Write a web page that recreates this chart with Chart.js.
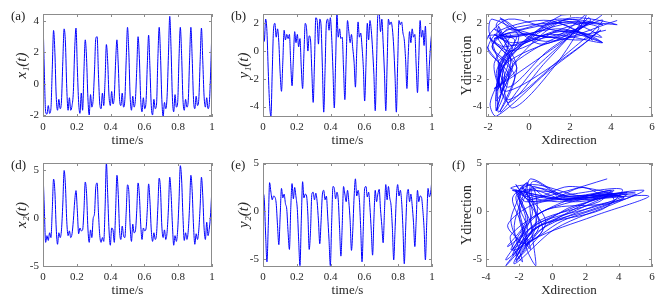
<!DOCTYPE html>
<html>
<head>
<meta charset="utf-8">
<script src="https://cdn.jsdelivr.net/npm/chart.js@4.4.1/dist/chart.umd.min.js"></script>
<style>
  body { margin: 0; background: #fff; width: 665px; height: 306px; position: relative; overflow: hidden; }
  .panel { position: absolute; }
  .tag { position: absolute; font: 13px "Liberation Serif", serif; color: #222; }
</style>
</head>
<body>
<div class="panel" style="left:0;top:0"><canvas id="pa" width="220" height="150"></canvas></div>
<div class="panel" style="left:220px;top:0"><canvas id="pb" width="220" height="150"></canvas></div>
<div class="panel" style="left:440px;top:0"><canvas id="pc" width="225" height="150"></canvas></div>
<div class="panel" style="left:0;top:150px"><canvas id="pd" width="220" height="156"></canvas></div>
<div class="panel" style="left:220px;top:150px"><canvas id="pe" width="220" height="156"></canvas></div>
<div class="panel" style="left:440px;top:150px"><canvas id="pf" width="225" height="156"></canvas></div>
<div class="tag" style="left:11px;top:8px">(a)</div>
<div class="tag" style="left:231px;top:8px">(b)</div>
<div class="tag" style="left:452px;top:8px">(c)</div>
<div class="tag" style="left:11px;top:157px">(d)</div>
<div class="tag" style="left:231px;top:157px">(e)</div>
<div class="tag" style="left:452px;top:157px">(f)</div>
<script>
// samples every 1/128 s, 8 per row
const x1 = [
  4.3, 0.8, -1.8, -1.95, -1.4, -1.9, -1.6, 0.9,
  3.4, 2.0, -0.8, -1.7, -1.0, -1.6, -1.1, 1.4,
  3.5, 2.6, -0.3, -1.7, -0.9, -1.7, -1.4, -0.5,
  2.2, 3.55, 1.0, -1.2, -1.9, -0.6, -1.7, 0.8,
  2.8, 1.6, -0.9, -2.0, -0.7, -1.5, -1.0, 0.8,
  2.9, 3.0, 0.6, -1.3, -1.6, -0.6, -1.4, 0.2,
  2.5, 1.4, -0.8, -1.4, -0.5, -1.3, -0.8, 1.4,
  2.8, 1.2, -1.0, -1.4, -0.6, -1.5, -1.0, 1.5,
  3.6, 2.0, -0.8, -1.7, -0.8, -1.5, -1.0, 0.9,
  3.0, 1.6, -1.0, -1.8, -0.9, -1.6, -1.2, 1.2,
  3.1, 1.0, -1.4, -2.0, -1.0, -1.6, -1.3, 1.6,
  3.6, 1.8, -1.0, -2.1, -1.2, -1.6, -0.8, 1.8,
  4.3, 2.2, -0.9, -1.8, -0.7, -1.5, -1.2, 1.6,
  3.6, 1.8, -1.0, -1.7, -1.0, -1.5, -1.1, 1.5,
  3.6, 1.6, -1.0, -1.6, -0.8, -1.4, -1.0, 1.4,
  3.55, 1.5, -0.8, -1.5, -0.9, -1.6, -1.2, 0.8,
  3.75
];
const y1 = [
  2.2, 0.7, 2.3, 1.4, -1.5, -3.8, -4.7, -1.5,
  1.6, 2.0, 1.0, 1.6, 0.6, -1.6, -2.9, -0.8,
  1.5, 0.8, 1.2, 0.9, 1.2, -0.9, -2.5, -0.6,
  1.4, 0.6, 1.2, 0.3, 0.9, -1.2, -2.7, -0.2,
  2.0, 1.6, 0.0, 1.1, 0.8, -1.5, -3.7, -0.8,
  2.4, 2.2, 0.5, 2.3, 1.8, -1.2, -4.4, -1.4,
  2.0, 2.3, 1.5, 2.4, 1.0, -1.4, -4.1, -0.8,
  2.7, 1.0, 1.6, 0.9, 1.0, -1.3, -3.5, -0.6,
  2.2, 1.4, 0.6, 1.2, 0.2, -0.8, -2.6, 0.0,
  2.1, 1.0, 1.3, 0.3, -1.2, -3.6, -1.0, 2.0,
  0.8, 2.2, 1.5, 0.1, -1.7, -4.3, -0.9, 2.6,
  2.7, 1.4, 2.3, 0.6, -1.6, -4.3, -1.0, 2.3,
  1.9, 2.1, 1.6, 0.3, -1.8, -4.4, -0.9, 2.2,
  1.9, 2.1, 1.3, 0.8, -0.6, -2.7, -0.3, 1.4,
  0.6, 1.6, 1.0, 1.2, -1.0, -3.0, -0.5, 2.2,
  1.0, 1.5, 0.4, 1.8, -0.8, -2.9, -1.0, 0.5,
  1.5
];
const x2 = [
  5.0, 1.0, -2.5, -1.8, -2.3, -1.5, -2.0, 0.8,
  4.1, 2.8, -1.0, -2.7, -1.5, -2.0, -1.2, 1.5,
  5.0, 3.4, -0.3, -1.8, -1.3, -2.0, -1.6, -0.2,
  1.8, 2.9, 0.8, -1.6, -1.0, -1.3, -1.2, 0.8,
  3.8, 2.6, -1.0, -2.5, -1.2, -2.0, 0.0, 0.5,
  3.3, 3.7, 0.6, -1.8, -2.5, -2.0, -2.4, 1.0,
  5.8, 2.5, -1.2, -2.8, -1.0, -1.2, -2.5, 0.8,
  4.5, 2.5, -1.3, -2.2, -0.8, -1.8, -2.0, 0.6,
  3.5, 2.8, -0.8, -2.4, -0.6, -1.5, -1.3, 0.8,
  3.7, 2.4, -0.6, -2.2, -1.0, -1.3, -1.1, 0.9,
  3.6, 1.8, -1.2, -2.4, -1.5, -2.2, -1.6, 1.2,
  4.2, 3.0, -0.8, -2.0, -1.2, -2.2, -1.4, 1.0,
  4.3, 2.6, -0.6, -2.8, -1.8, -2.4, -1.2, 1.8,
  5.5, 4.0, 0.2, -2.3, -1.5, -2.2, -1.3, 1.2,
  4.5, 2.8, -0.8, -2.7, -1.6, -2.2, -1.2, 1.2,
  4.3, 2.4, -1.0, -2.2, -0.4, -1.8, -1.0, 0.6,
  3.3
];
const y2 = [
  2.0, 1.2, -2.5, -5.3, -1.5, 3.0, 2.0, 1.2,
  1.6, 1.5, 0.8, -1.5, -3.5, -0.5, 2.4, 1.4,
  1.8, 0.8, 0.2, -2.2, -4.0, 0.2, 2.9, 1.3,
  2.5, 1.5, 0.2, -3.0, -5.7, -1.0, 3.1, 1.4,
  1.8, 1.6, -0.4, -4.0, -2.0, 1.8, 2.0, 1.2,
  1.9, 1.0, -1.0, -3.4, -1.0, 1.8, 2.2, 1.2,
  1.6, -0.5, -3.0, -5.7, -1.2, 2.6, 2.4, 1.3,
  2.0, 1.2, -1.8, -4.7, -1.5, 2.6, 1.8, 1.0,
  2.2, 1.0, -1.0, -4.1, -2.0, 1.5, 3.4, 1.6,
  2.2, 1.2, -1.8, -5.3, -1.6, 2.4, 2.6, 1.5,
  2.0, 0.4, -2.0, -4.6, -0.8, 2.2, 1.0, 1.8,
  2.3, 0.2, -1.5, -3.3, 0.0, 2.8, 1.2, 2.6,
  1.4, 0.6, -1.8, -5.1, -2.0, 1.4, 2.8, 1.6,
  2.2, 1.0, -1.8, -5.5, -2.0, 1.5, 2.3, 1.0,
  1.8, 0.6, -1.2, -3.7, -1.0, 2.2, 1.0, 1.6,
  1.5, 0.2, -1.8, -5.1, -1.2, 2.4, 1.5, 2.0,
  3.4
];

const timeTicks = [0, 0.2, 0.4, 0.6, 0.8, 1];
const x1Ticks = [-2, 0, 2, 4];
const y1Ticks = [-4, -2, 0, 2];
const x2Ticks = [-5, 0, 5];
const y2Ticks = [-5, 0, 5];
const cXTicks = [-2, 0, 2, 4, 6];
const fXTicks = [-4, -2, 0, 2, 4, 6];

const sampleTime = x1.map((_, i) => i / 128);
const blue = 'rgb(0,0,255)';
const serif = '"Liberation Serif", "DejaVu Serif", serif';

// MATLAB style box with inward ticks
const framePlugin = {
  id: 'frame',
  afterDatasetsDraw(chart) {
    const { ctx, chartArea: a, scales } = chart;
    ctx.save();
    ctx.strokeStyle = '#8c8c8c';
    ctx.lineWidth = 1;
    ctx.strokeRect(a.left + 0.5, a.top + 0.5, a.right - a.left - 1, a.bottom - a.top - 1);
    ctx.beginPath();
    scales.x.ticks.forEach(t => {
      const p = Math.round(scales.x.getPixelForValue(t.value)) + 0.5;
      ctx.moveTo(p, a.bottom); ctx.lineTo(p, a.bottom - 3);
      ctx.moveTo(p, a.top); ctx.lineTo(p, a.top + 3);
    });
    scales.y.ticks.forEach(t => {
      const p = Math.round(scales.y.getPixelForValue(t.value)) + 0.5;
      ctx.moveTo(a.left, p); ctx.lineTo(a.left + 3, p);
      ctx.moveTo(a.right, p); ctx.lineTo(a.right - 3, p);
    });
    ctx.stroke();
    ctx.restore();
  }
};
Chart.register(framePlugin);

function makePanel(id, o) {
  const yLh = o.yTitleSize * 1.2;
  const xLh = 13 * 1.2;
  new Chart(document.getElementById(id), {
    type: o.type,
    data: { datasets: [o.dataset] },
    options: {
      responsive: false,
      animation: false,
      devicePixelRatio: 1,
      layout: { padding: { top: o.padTop, right: o.padRight, left: 0, bottom: 0 } },
      plugins: { legend: { display: false }, tooltip: { enabled: false } },
      scales: {
        x: {
          type: 'linear', min: o.xMin, max: o.xMax,
          grid: { display: false, drawTicks: false }, border: { display: false },
          afterBuildTicks: s => { s.ticks = o.xTicks.map(v => ({ value: v })); },
          afterFit: s => { s.height = o.xH; },
          ticks: {
            padding: 4, color: '#262626', font: { family: serif, size: 11 }, maxRotation: 0,
            callback: v => String(v)
          },
          title: {
            display: true, text: o.xTitle, color: '#262626',
            font: { family: serif, size: 13 },
            padding: { top: 0, bottom: o.xH - 23.5 - xLh / 2 }
          }
        },
        y: {
          type: 'linear', min: o.yMin, max: o.yMax,
          grid: { display: false, drawTicks: false }, border: { display: false },
          afterBuildTicks: s => { s.ticks = o.yTicks.map(v => ({ value: v })); },
          afterFit: s => { s.width = o.yW; },
          ticks: { padding: 4, color: '#262626', font: { family: serif, size: 11 }, callback: v => String(v) },
          title: {
            display: true, text: o.yTitle, color: '#262626',
            font: { family: serif, size: o.yTitleSize, style: o.yItalic ? 'italic' : 'normal' },
            padding: { top: o.yTitleX - yLh / 2, bottom: 0 }
          }
        }
      }
    }
  });
}

function seriesSet(values) {
  return {
    data: values.map((v, i) => ({ x: sampleTime[i], y: v })),
    borderColor: blue, borderWidth: 1.0, pointRadius: 0,
    cubicInterpolationMode: 'monotone', fill: false
  };
}
function phaseSet(xs, ys) {
  return {
    data: xs.map((v, i) => ({ x: v, y: ys[i] })),
    showLine: true, borderColor: blue, borderWidth: 0.8, pointRadius: 0,
    tension: 0.3, fill: false
  };
}

const top1 = { padTop: 14, xH: 33 };
const top2 = { padTop: 13, xH: 39 };

makePanel('pa', Object.assign({}, top1, {
  type: 'line', dataset: seriesSet(x1), xMin: 0, xMax: 1, yMin: -2.13, yMax: 4.45,
  xTicks: timeTicks, yTicks: x1Ticks, xTitle: 'time/s', yTitle: 'x₁(t)', yItalic: true,
  yTitleSize: 15, yTitleX: 22, yW: 43, padRight: 8
}));
makePanel('pb', Object.assign({}, top1, {
  type: 'line', dataset: seriesSet(y1), xMin: 0, xMax: 1, yMin: -4.75, yMax: 2.67,
  xTicks: timeTicks, yTicks: y1Ticks, xTitle: 'time/s', yTitle: 'y₁(t)', yItalic: true,
  yTitleSize: 15, yTitleX: 24, yW: 43, padRight: 8
}));
makePanel('pc', Object.assign({}, top1, {
  type: 'scatter', dataset: phaseSet(x1, y1), xMin: -2.1, xMax: 6, yMin: -4.75, yMax: 2.67,
  xTicks: cXTicks, yTicks: y1Ticks, xTitle: 'Xdirection', yTitle: 'Ydirection', yItalic: false,
  yTitleSize: 14, yTitleX: 27, yW: 46, padRight: 13
}));
makePanel('pd', Object.assign({}, top2, {
  type: 'line', dataset: seriesSet(x2), xMin: 0, xMax: 1, yMin: -5.07, yMax: 5.78,
  xTicks: timeTicks, yTicks: x2Ticks, xTitle: 'time/s', yTitle: 'x₂(t)', yItalic: true,
  yTitleSize: 15, yTitleX: 22, yW: 43, padRight: 8
}));
makePanel('pe', Object.assign({}, top2, {
  type: 'line', dataset: seriesSet(y2), xMin: 0, xMax: 1, yMin: -5.84, yMax: 5.06,
  xTicks: timeTicks, yTicks: y2Ticks, xTitle: 'time/s', yTitle: 'y₂(t)', yItalic: true,
  yTitleSize: 15, yTitleX: 24, yW: 43, padRight: 8
}));
makePanel('pf', Object.assign({}, top2, {
  type: 'scatter', dataset: phaseSet(x2, y2), xMin: -4, xMax: 6, yMin: -5.84, yMax: 5.06,
  xTicks: fXTicks, yTicks: y2Ticks, xTitle: 'Xdirection', yTitle: 'Ydirection', yItalic: false,
  yTitleSize: 14, yTitleX: 27, yW: 46, padRight: 13
}));
</script>
</body>
</html>
